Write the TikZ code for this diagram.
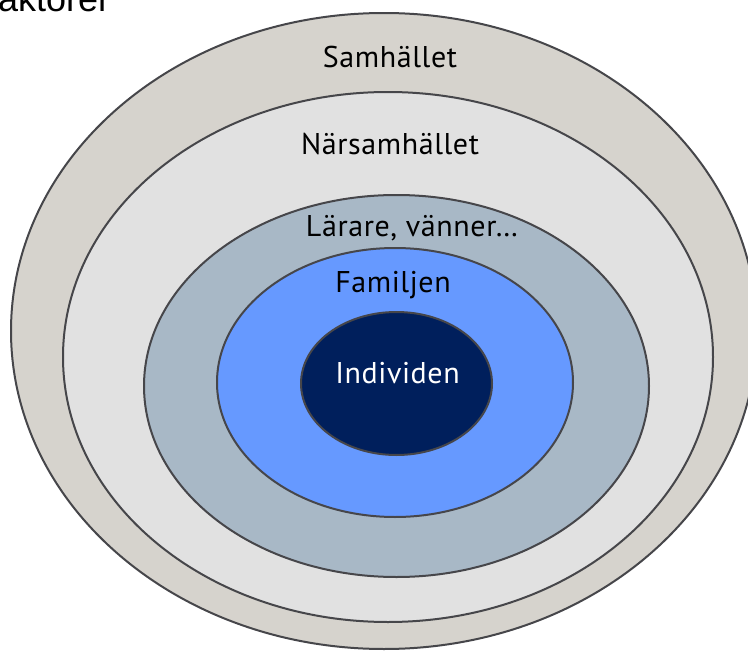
\documentclass[tikz,border=0pt]{standalone}
\usepackage{fontspec}
\setmainfont{PT Sans}[LetterSpace=2]
\newfontfamily\arialfont{Liberation Sans}
\definecolor{ringA}{HTML}{D6D3CD}
\definecolor{ringB}{HTML}{E1E1E1}
\definecolor{ringC}{HTML}{A8B8C6}
\definecolor{ringD}{HTML}{6699FF}
\definecolor{ringE}{HTML}{001F5C}
\definecolor{edge}{HTML}{46464A}
\tikzset{
  ring/.style={draw=edge, line width=2pt},
  lbl/.style={anchor=base, inner sep=0pt, font=\fontsize{30}{33}\selectfont},
}
\begin{document}
\begin{tikzpicture}[x=1pt,y=-1pt]
\useasboundingbox (0,0) rectangle (748,653);
\fill[white] (0,0) rectangle (748,653);
\filldraw[ring, fill=ringA] (384,331) ellipse [x radius=373, y radius=318];
\filldraw[ring, fill=ringB] (388,357) ellipse [x radius=325, y radius=265];
\filldraw[ring, fill=ringC] (396.5,386) ellipse [x radius=252.5, y radius=191];
\filldraw[ring, fill=ringD] (395,382.5) ellipse [x radius=178, y radius=134.5];
\filldraw[ring, fill=ringE] (396.5,383.5) ellipse [x radius=95.5, y radius=71.5];
\node[lbl] (samh) at (390,67) {Samhället};
\node[lbl] (nars) at (390,154) {Närsamhället};
\node[lbl] (lar) at (412,236) {Lärare, vänner…};
\node[lbl] (fam) at (393,292) {Familjen};
\node[lbl, text=white] (ind) at (397.5,383) {Individen};
\node[anchor=base west, inner sep=0pt, font=\arialfont\fontsize{36}{40}\selectfont] (title) at (-2,11) {aktorer};
\end{tikzpicture}
\end{document}
